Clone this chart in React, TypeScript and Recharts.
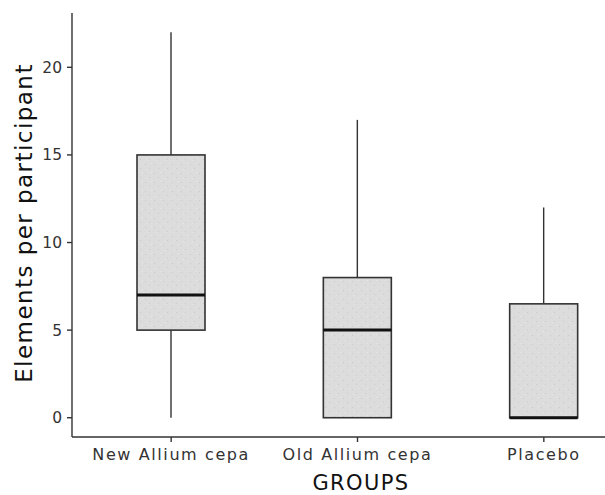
import React from 'react';
import { ComposedChart, Bar, XAxis, YAxis, Label } from 'recharts';

const groups = ['New Allium cepa', 'Old Allium cepa', 'Placebo'];
const minValues = [0, 0, 0];
const q1Values = [5, 0, 0];
const medianValues = [7, 5, 0];
const q3Values = [15, 8, 6.5];
const maxValues = [22, 17, 12];
const yTicks = [0, 5, 10, 15, 20];

const data = groups.map((g, i) => ({
  group: g,
  range: [minValues[i], maxValues[i]],
  min: minValues[i],
  q1: q1Values[i],
  median: medianValues[i],
  q3: q3Values[i],
  max: maxValues[i],
}));

const FONT = '"DejaVu Sans", sans-serif';
const LINE = '#333333';

const BoxShape = (props: any) => {
  const { x, y, width, height, payload } = props;
  const { min, q1, median, q3, max } = payload;
  const toPx = (v: number) => y + (height * (max - v)) / (max - min);
  const cx = x + width / 2;
  const yMax = toPx(max);
  const yMin = toPx(min);
  const yQ1 = toPx(q1);
  const yQ3 = toPx(q3);
  const yMed = toPx(median);
  return (
    <g>
      <line x1={cx} x2={cx} y1={yMax} y2={yQ3} stroke={LINE} strokeWidth={1.4} />
      <line x1={cx} x2={cx} y1={yQ1} y2={yMin} stroke={LINE} strokeWidth={1.4} />
      <rect x={x} y={yQ3} width={width} height={yQ1 - yQ3} fill="url(#speckle)" stroke={LINE} strokeWidth={1.6} />
      <line x1={x} x2={x + width} y1={yMed} y2={yMed} stroke="#111" strokeWidth={3} />
    </g>
  );
};

export default function App() {
  return (
    <div style={{ position: 'absolute', left: 0, top: 0, background: '#fff' }}>
      <ComposedChart
        width={605}
        height={495}
        data={data}
        margin={{ top: 13, right: 0, bottom: 28, left: 0 }}
      >
        <defs>
          <pattern id="speckle" width="9" height="9" patternUnits="userSpaceOnUse">
            <rect width="9" height="9" fill="#dcdcdc" />
            <rect x="1" y="2" width="1" height="1" fill="#c9c9c9" />
            <rect x="5" y="6" width="1" height="1" fill="#cbcbcb" />
            <rect x="7" y="1" width="1" height="1" fill="#e6e6e6" />
            <rect x="3" y="7" width="1" height="1" fill="#e4e4e4" />
          </pattern>
        </defs>
        <XAxis
          dataKey="group"
          height={30}
          padding={{ left: 6, right: -32 }}
          axisLine={{ stroke: LINE, strokeWidth: 1.4 }}
          tickLine={{ stroke: LINE, strokeWidth: 1.4 }}
          tickSize={5}
          tickMargin={7}
          tick={{ fontSize: 16, fill: '#333', fontFamily: FONT, style: { letterSpacing: '1.6px' } }}
          interval={0}
        >
          <Label
            content={() => (
              <text
                x={361}
                y={490}
                textAnchor="middle"
                fontFamily={FONT}
                fontSize={21}
                fill="#111"
                style={{ letterSpacing: '1.4px' }}
              >
                GROUPS
              </text>
            )}
          />
        </XAxis>
        <YAxis
          width={72}
          domain={[-1.1, 23.1]}
          ticks={yTicks}
          type="number"
          allowDataOverflow
          axisLine={{ stroke: LINE, strokeWidth: 1.4 }}
          tickLine={{ stroke: LINE, strokeWidth: 1.4 }}
          tickSize={5}
          tickMargin={5}
          tick={{ fontSize: 15.5, fill: '#333', fontFamily: FONT }}
        >
          <Label
            content={() => (
              <text
                transform="translate(32,223) rotate(-90)"
                textAnchor="middle"
                fontFamily={FONT}
                fontSize={23}
                fill="#111"
                style={{ letterSpacing: '1.45px' }}
              >
                Elements per participant
              </text>
            )}
          />
        </YAxis>
        <Bar dataKey="range" barSize={68} shape={<BoxShape />} isAnimationActive={false} />
      </ComposedChart>
    </div>
  );
}
